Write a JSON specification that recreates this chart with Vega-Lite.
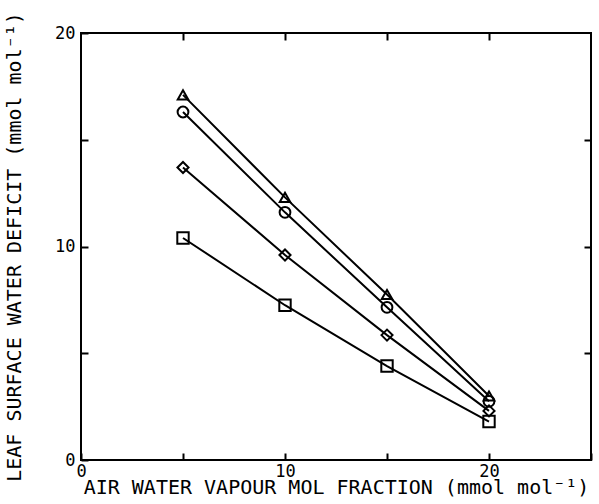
{
  "$schema": "https://vega.github.io/schema/vega-lite/v6.json",
  "width": 510,
  "height": 427,
  "autosize": {"type": "none"},
  "padding": {"left": 81, "top": 33, "right": 8, "bottom": 44},
  "background": "white",
  "config": {
    "view": {"stroke": "black", "strokeWidth": 2},
    "axis": {
      "domain": false,
      "grid": false,
      "tickColor": "black",
      "tickWidth": 2,
      "tickSize": -7,
      "labelFont": "DejaVu Sans Mono",
      "labelFontSize": 17,
      "labelColor": "black",
      "titleFont": "DejaVu Sans Mono",
      "titleFontSize": 20,
      "titleFontWeight": "normal",
      "titleColor": "black"
    }
  },
  "data": {
    "values": [
      {"series": "A", "x": 5, "y": 17.1},
      {"series": "A", "x": 10, "y": 12.3},
      {"series": "A", "x": 15, "y": 7.75},
      {"series": "A", "x": 20, "y": 3.0},
      {"series": "B", "x": 5, "y": 16.3},
      {"series": "B", "x": 10, "y": 11.6},
      {"series": "B", "x": 15, "y": 7.15},
      {"series": "B", "x": 20, "y": 2.75},
      {"series": "C", "x": 5, "y": 13.7},
      {"series": "C", "x": 10, "y": 9.6},
      {"series": "C", "x": 15, "y": 5.85},
      {"series": "C", "x": 20, "y": 2.3},
      {"series": "D", "x": 5, "y": 10.4},
      {"series": "D", "x": 10, "y": 7.25},
      {"series": "D", "x": 15, "y": 4.4},
      {"series": "D", "x": 20, "y": 1.8}
    ]
  },
  "layer": [
    {
      "mark": {"type": "line", "color": "black", "strokeWidth": 2},
      "encoding": {
        "x": {"field": "x", "type": "quantitative", "scale": {"domain": [0, 25], "nice": false},
          "axis": {"orient": "bottom", "values": [0, 5, 10, 15, 20, 25], "labelExpr": "datum.value % 10 === 0 ? datum.label : ''", "labelPadding": 10, "title": "AIR WATER VAPOUR MOL FRACTION (mmol mol⁻¹)", "titlePadding": -2, "labelFlush": false}},
        "y": {"field": "y", "type": "quantitative", "scale": {"domain": [0, 20], "nice": false},
          "axis": {"orient": "left", "values": [0, 5, 10, 15, 20], "labelExpr": "datum.value % 10 === 0 ? datum.label : ''", "labelPadding": 13, "title": "LEAF SURFACE WATER DEFICIT (mmol mol⁻¹)", "titlePadding": 30, "labelFlush": false}},
        "detail": {"field": "series"}
      }
    },
    {
      "mark": {"type": "point", "filled": false, "color": "black", "strokeWidth": 2, "opacity": 1},
      "encoding": {
        "x": {"field": "x", "type": "quantitative", "axis": null},
        "y": {"field": "y", "type": "quantitative", "axis": null},
        "shape": {"field": "series", "type": "nominal", "legend": null,
          "scale": {"domain": ["A", "B", "C", "D"], "range": ["triangle-up", "circle", "diamond", "square"]}},
        "size": {"field": "series", "type": "nominal", "legend": null,
          "scale": {"domain": ["A", "B", "C", "D"], "range": [110, 130, 60, 130]}}
      }
    },
    {
      "mark": {"type": "point", "opacity": 0},
      "encoding": {
        "x": {"field": "x", "type": "quantitative",
          "axis": {"orient": "top", "values": [5, 10, 15, 20], "labels": false, "title": null}},
        "y": {"field": "y", "type": "quantitative",
          "axis": {"orient": "right", "values": [5, 10, 15], "labels": false, "title": null}}
      }
    }
  ],
  "resolve": {"axis": {"x": "independent", "y": "independent"}}
}
